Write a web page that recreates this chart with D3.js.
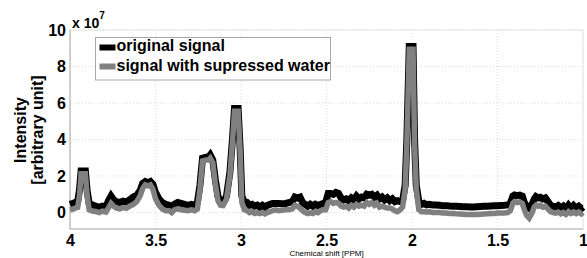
<!DOCTYPE html>
<html>
<head>
<meta charset="utf-8">
<script src="https://cdn.jsdelivr.net/npm/d3@7"></script>
<style>
  body { margin: 0; background: #fff; }
  text { font-family: "Liberation Sans", Arial, sans-serif; }
</style>
</head>
<body>
<div id="chart"></div>
<script>
// chemical shift axis (ppm) and the two spectra (x 1e7)
var ppm = [4.000, 3.985, 3.970, 3.955, 3.945, 3.935, 3.910, 3.900, 3.888, 3.870,
  3.850, 3.830, 3.810, 3.790, 3.775, 3.760, 3.745, 3.730, 3.710, 3.690,
  3.670, 3.650, 3.630, 3.610, 3.590, 3.575, 3.560, 3.545, 3.530, 3.515,
  3.500, 3.480, 3.460, 3.440, 3.420, 3.405, 3.390, 3.370, 3.350, 3.330,
  3.310, 3.290, 3.270, 3.255, 3.240, 3.225, 3.205, 3.190, 3.180, 3.165,
  3.150, 3.135, 3.120, 3.105, 3.085, 3.065, 3.050, 3.038, 3.017, 3.005,
  2.995, 2.980, 2.965, 2.950, 2.935, 2.920, 2.905, 2.890, 2.875, 2.860,
  2.845, 2.830, 2.815, 2.800, 2.780, 2.760, 2.740, 2.720, 2.700, 2.685,
  2.670, 2.655, 2.640, 2.625, 2.610, 2.595, 2.580, 2.565, 2.550, 2.535,
  2.520, 2.505, 2.490, 2.475, 2.460, 2.445, 2.430, 2.415, 2.400, 2.385,
  2.370, 2.355, 2.340, 2.325, 2.310, 2.295, 2.280, 2.265, 2.250, 2.235,
  2.220, 2.205, 2.190, 2.175, 2.160, 2.145, 2.130, 2.115, 2.100, 2.085,
  2.070, 2.055, 2.040, 2.030, 2.016, 1.994, 1.985, 1.975, 1.960, 1.945,
  1.930, 1.915, 1.900, 1.880, 1.860, 1.840, 1.820, 1.800, 1.780, 1.760,
  1.740, 1.720, 1.700, 1.680, 1.660, 1.640, 1.620, 1.600, 1.580, 1.560,
  1.540, 1.520, 1.500, 1.480, 1.460, 1.440, 1.425, 1.410, 1.400, 1.385,
  1.370, 1.355, 1.345, 1.330, 1.315, 1.300, 1.285, 1.275, 1.260, 1.250,
  1.235, 1.220, 1.205, 1.190, 1.175, 1.160, 1.145, 1.130, 1.115, 1.100,
  1.085, 1.070, 1.055, 1.040, 1.025, 1.010, 1.000];

var original = [0.45, 0.50, 0.55, 0.62, 1.20, 2.28, 2.28, 1.20, 0.50, 0.42,
  0.35, 0.30, 0.35, 0.30, 0.65, 0.90, 0.70, 0.60, 0.55, 0.62,
  0.58, 0.70, 0.85, 0.95, 1.20, 1.60, 1.70, 1.63, 1.70, 1.55,
  1.10, 0.75, 0.55, 0.45, 0.40, 0.30, 0.45, 0.55, 0.50, 0.45,
  0.40, 0.45, 0.40, 0.55, 1.50, 2.98, 3.03, 3.03, 3.15, 2.88,
  1.80, 0.90, 0.60, 0.55, 0.90, 2.20, 4.00, 5.70, 5.70, 3.50,
  0.90, 0.55, 0.55, 0.40, 0.45, 0.35, 0.40, 0.30, 0.40, 0.30,
  0.40, 0.45, 0.50, 0.50, 0.50, 0.48, 0.50, 0.55, 0.60, 0.85,
  0.80, 0.85, 0.55, 0.45, 0.35, 0.45, 0.35, 0.45, 0.38, 0.45,
  0.50, 0.55, 1.05, 1.05, 1.00, 1.10, 1.05, 0.80, 0.70, 0.75,
  0.65, 0.80, 0.70, 0.90, 0.75, 0.85, 0.80, 1.00, 0.95, 1.00,
  0.85, 0.95, 0.75, 0.85, 0.70, 0.80, 0.65, 0.75, 0.60, 0.65,
  0.60, 0.65, 1.50, 4.00, 9.10, 9.10, 4.00, 1.50, 0.60, 0.45,
  0.50, 0.42, 0.45, 0.42, 0.42, 0.40, 0.38, 0.38, 0.36, 0.35,
  0.34, 0.33, 0.32, 0.32, 0.31, 0.31, 0.32, 0.33, 0.34, 0.35,
  0.36, 0.37, 0.38, 0.39, 0.40, 0.42, 0.50, 0.90, 0.96, 0.93,
  0.96, 0.90, 0.60, 0.35, 0.25, 0.40, 0.75, 0.88, 0.80, 0.83,
  0.75, 0.80, 0.60, 0.40, 0.35, 0.30, 0.38, 0.25, 0.35, 0.20,
  0.40, 0.22, 0.38, 0.25, 0.35, 0.22, 0.30];

var suppressed = [0.15, 0.18, 0.24, 0.28, 0.90, 2.12, 2.12, 0.95, 0.15, 0.08,
  0.06, 0.00, 0.08, 0.03, 0.26, 0.50, 0.35, 0.25, 0.20, 0.27,
  0.23, 0.35, 0.45, 0.60, 0.92, 1.32, 1.52, 1.47, 1.52, 1.27,
  0.76, 0.40, 0.20, 0.10, 0.10, 0.00, 0.15, 0.20, 0.15, 0.13,
  0.10, 0.15, 0.10, 0.20, 1.28, 2.83, 2.88, 2.88, 2.98, 2.73,
  1.58, 0.66, 0.40, 0.38, 0.72, 2.02, 3.82, 5.55, 5.55, 3.32,
  0.55, 0.15, 0.10, 0.00, 0.05, -0.05, 0.00, -0.05, 0.00, -0.07,
  0.00, 0.05, 0.10, 0.15, 0.10, 0.13, 0.15, 0.15, 0.20, 0.40,
  0.35, 0.25, 0.10, 0.00, -0.05, 0.00, -0.05, 0.05, 0.00, 0.10,
  0.15, 0.15, 0.55, 0.60, 0.50, 0.55, 0.50, 0.35, 0.30, 0.35,
  0.25, 0.40, 0.30, 0.45, 0.35, 0.40, 0.35, 0.55, 0.45, 0.55,
  0.40, 0.50, 0.30, 0.35, 0.30, 0.25, 0.25, 0.20, 0.10, 0.05,
  0.15, 0.30, 1.28, 3.78, 8.95, 8.95, 3.78, 1.28, 0.15, 0.05,
  0.05, 0.03, 0.05, 0.00, 0.00, 0.00, -0.02, -0.03, -0.05, -0.05,
  -0.07, -0.08, -0.09, -0.10, -0.10, -0.10, -0.10, -0.09, -0.08, -0.07,
  -0.05, -0.05, -0.03, -0.03, -0.02, 0.00, 0.10, 0.52, 0.60, 0.55,
  0.58, 0.50, 0.20, -0.15, -0.30, -0.05, 0.30, 0.40, 0.35, 0.40,
  0.30, 0.35, 0.20, 0.05, 0.00, -0.03, 0.03, -0.07, 0.00, -0.10,
  0.05, -0.05, 0.03, -0.05, 0.03, -0.07, 0.00];

var xTicks = [4, 3.5, 3, 2.5, 2, 1.5, 1];
var yTicks = [0, 2, 4, 6, 8, 10];
var seriesNames = ["original signal", "signal with supressed water"];
var seriesColors = ["#000000", "#808080"];

var width = 587, height = 258;
var margin = { top: 30, right: 4, bottom: 29, left: 70 };

var svg = d3.select("#chart").append("svg")
    .attr("width", width)
    .attr("height", height);

var x = d3.scaleLinear().domain([4, 1]).range([margin.left, width - margin.right]);
var y = d3.scaleLinear().domain([-0.9, 10]).range([height - margin.bottom, margin.top]);

// grid
svg.append("g").selectAll("line").data(xTicks).enter().append("line")
    .attr("x1", function (d) { return x(d) }).attr("x2", function (d) { return x(d) })
    .attr("y1", y(10)).attr("y2", y(-0.9))
    .attr("stroke", "#dcdcdc").attr("stroke-dasharray", "1,2");
svg.append("g").selectAll("line").data(yTicks).enter().append("line")
    .attr("x1", x(4)).attr("x2", x(1))
    .attr("y1", function (d) { return y(d) }).attr("y2", function (d) { return y(d) })
    .attr("stroke", "#dcdcdc").attr("stroke-dasharray", "1,2");

// box
svg.append("rect")
    .attr("x", x(4)).attr("y", y(10))
    .attr("width", x(1) - x(4)).attr("height", y(-0.9) - y(10))
    .attr("fill", "none").attr("stroke", "#e4e4e4");
svg.append("path")
    .attr("d", "M" + x(4) + "," + y(10) + "V" + y(-0.9) + "H" + x(1))
    .attr("fill", "none").attr("stroke", "#b0b0b0");

// spectra
var pts = ppm.map(function (p, i) { return { p: p, a: original[i], b: suppressed[i] } });
var lineA = d3.line().x(function (d) { return x(d.p) }).y(function (d) { return y(d.a) });
var lineB = d3.line().x(function (d) { return x(d.p) }).y(function (d) { return y(d.b) });

svg.append("path").datum(pts).attr("d", lineA)
    .attr("fill", "none").attr("stroke", seriesColors[0]).attr("stroke-width", 7);
svg.append("path").datum(pts).attr("d", lineB)
    .attr("fill", "none").attr("stroke", seriesColors[1]).attr("stroke-width", 5.5);

// axes
var xAxis = svg.append("g")
    .attr("transform", "translate(0," + y(-0.9) + ")")
    .call(d3.axisBottom(x).tickValues(xTicks).tickSize(0).tickPadding(6).tickFormat(d3.format("")));
var yAxis = svg.append("g")
    .attr("transform", "translate(" + x(4) + ",0)")
    .call(d3.axisLeft(y).tickValues(yTicks).tickSize(0).tickPadding(4).tickFormat(d3.format("")));
[xAxis, yAxis].forEach(function (a) {
    a.select(".domain").remove();
    a.selectAll("text")
        .attr("font-family", "Liberation Sans, Arial, sans-serif")
        .attr("font-size", "16px")
        .attr("font-weight", "bold")
        .attr("fill", "#000");
});

// exponent
var ex = svg.append("text").attr("x", 72).attr("y", 28)
    .attr("font-size", "14px").attr("font-weight", "bold");
ex.append("tspan").text("x 10");
ex.append("tspan").attr("dy", -9).attr("font-size", "10px").text("7");

// axis labels
svg.append("text")
    .attr("transform", "translate(26,130) rotate(-90)")
    .attr("text-anchor", "middle")
    .attr("font-size", "16px").attr("font-weight", "bold")
    .text("Intensity");
svg.append("text")
    .attr("transform", "translate(43,130) rotate(-90)")
    .attr("text-anchor", "middle")
    .attr("font-size", "16px").attr("font-weight", "bold")
    .text("[arbitrary unit]");
svg.append("text")
    .attr("x", (x(4) + x(1)) / 2).attr("y", 256)
    .attr("text-anchor", "middle")
    .attr("font-size", "8px")
    .text("Chemical shift [PPM]");

// legend
var legend = svg.append("g");
legend.append("rect")
    .attr("x", 95.5).attr("y", 37.5).attr("width", 235).attr("height", 42.5)
    .attr("fill", "#fff").attr("stroke", "#a8a8a8");
seriesNames.forEach(function (name, i) {
    var yy = 47.5 + i * 19;
    legend.append("line")
        .attr("x1", 99.5).attr("x2", 115.5).attr("y1", yy).attr("y2", yy)
        .attr("stroke", seriesColors[i]).attr("stroke-width", 6);
    legend.append("text")
        .attr("x", 116.5).attr("y", yy + 3.5 + 0.5 * i)
        .attr("font-size", "16px").attr("font-weight", "bold")
        .text(name);
});
</script>
</body>
</html>
